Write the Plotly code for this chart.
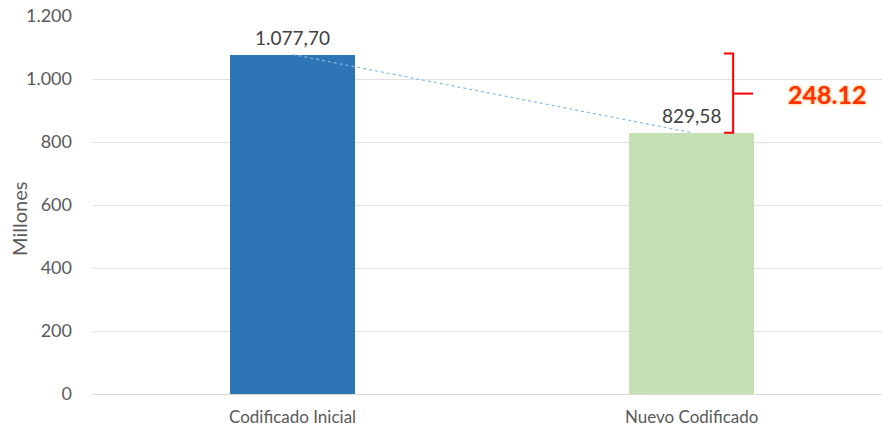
import plotly.graph_objects as go

# ------------------------------------------------------------------
# Data
# ------------------------------------------------------------------
categories = ["Codificado Inicial", "Nuevo Codificado"]
values = [1077.70, 829.58]
bar_colours = ["#2E75B6", "#C5E0B4"]
y_ticks = [0, 200, 400, 600, 800, 1000, 1200]

diff = round(values[0] - values[1], 2)

FONT = "Lato, 'Open Sans', sans-serif"
GREY = "#595959"

fig = go.Figure()

# ------------------------------------------------------------------
# 1. Bars
# ------------------------------------------------------------------
fig.add_trace(go.Bar(
    x=[0, 1], y=values,
    marker=dict(color=bar_colours, line=dict(width=0)),
    width=0.313,
    showlegend=False,
))

# value labels above each bar (es format: 1.077,70)
for i, v in enumerate(values):
    fig.add_annotation(
        x=i, y=v, xref="x", yref="y",
        text=f"{v:,.2f}".replace(",", "X").replace(".", ",").replace("X", "."),
        showarrow=False, yanchor="bottom", yshift=4,
        font=dict(family=FONT, size=19, color="#404040"),
    )

# ------------------------------------------------------------------
# 2. Dotted connector between bar tops
# ------------------------------------------------------------------
fig.add_trace(go.Scatter(
    x=[0, 1], y=values, mode="lines",
    line=dict(color="#8DB8E4", width=1.2, dash="dot"),
    showlegend=False, hoverinfo="skip",
))

# ------------------------------------------------------------------
# 3. Red bracket showing the difference
# ------------------------------------------------------------------
mid = (values[0] + values[1]) / 2
bx, hook, tick = 1.104, 1.081, 1.154
fig.add_trace(go.Scatter(
    x=[hook, bx, bx, hook, None, bx, tick],
    y=[values[0] + 3, values[0] + 3, values[1], values[1], None, mid, mid],
    mode="lines", line=dict(color="#FF0000", width=2),
    showlegend=False, hoverinfo="skip", cliponaxis=False,
))

fig.add_annotation(
    x=1.34, y=mid, xref="x", yref="y",
    text=f"<b>{diff:.2f}</b>", showarrow=False,
    font=dict(family=FONT, size=25, color="#FF3300",
              shadow="0px 0px 3px #FFA040"),
)

# y-axis title placed by hand
fig.add_annotation(
    x=0, y=0.5, xref="paper", yref="paper",
    xanchor="center", yanchor="middle", xshift=-74, yshift=-14,
    text="Millones", textangle=-90, showarrow=False,
    font=dict(family=FONT, size=20, color=GREY),
)

# ------------------------------------------------------------------
# 4. Layout
# ------------------------------------------------------------------
fig.update_layout(
    width=882, height=432,
    margin=dict(l=93, r=0, t=16, b=38),
    plot_bgcolor="white", paper_bgcolor="white",
    separators=",.",
    font=dict(family=FONT, size=17, color=GREY),
    xaxis=dict(
        range=[-0.5, 1.477], tickvals=[0, 1], ticktext=categories,
        showgrid=False, zeroline=False, automargin=False,
        showline=True, linecolor="#D9D9D9", linewidth=1,
        ticks="", ticklabelstandoff=8,
        tickfont=dict(size=17, color=GREY),
    ),
    yaxis=dict(
        range=[0, 1200], tickvals=y_ticks, tickformat=",d",
        showgrid=True, gridcolor="#E0E0E0", gridwidth=1,
        zeroline=False, showline=False, ticks="", automargin=False,
        ticklabelstandoff=20,
        tickfont=dict(size=18, color=GREY),
    ),
    bargap=0,
)

# drop the browser's default 8px body margin so the figure fills the window
fig.write_html(
    "out.html",
    config={"displayModeBar": False},
    post_script="document.body.style.margin = '0';",
)
